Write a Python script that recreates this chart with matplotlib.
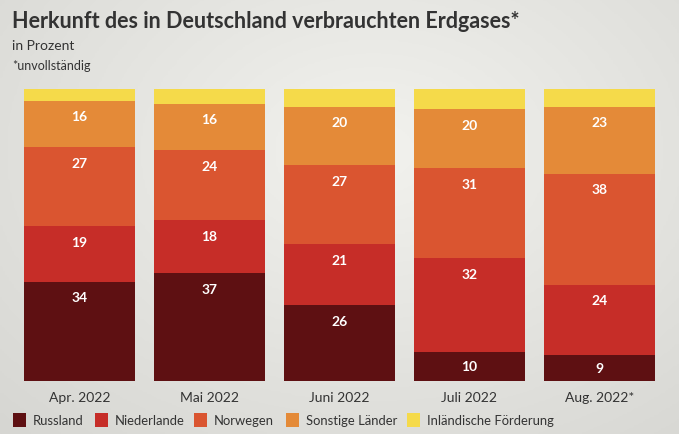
"""Herkunft des in Deutschland verbrauchten Erdgases - stacked bars."""
import matplotlib

matplotlib.use("Agg")
import matplotlib.pyplot as plt
import numpy as np
from matplotlib.patches import Rectangle

plt.rcParams["font.family"] = ["Lato", "DejaVu Sans"]

months = ["Apr. 2022", "Mai 2022", "Juni 2022", "Juli 2022", "Aug. 2022*"]
russland = [34, 37, 26, 10, 9]
niederlande = [19, 18, 21, 32, 24]
norwegen = [27, 24, 27, 31, 38]
sonstige = [16, 16, 20, 20, 23]
inland = [4, 5, 6, 7, 6]

series_names = ["Russland", "Niederlande", "Norwegen", "Sonstige Länder", "Inländische Förderung"]
colors = ["#5E1012", "#C62D28", "#DA5530", "#E48A38", "#F5DA4A"]
TEXT = "#333333"

fig = plt.figure(figsize=(6.79, 4.35), dpi=100)

# soft radial grey background
bg = fig.add_axes([0, 0, 1, 1], zorder=-10)
yy, xx = np.mgrid[0:1:200j, 0:1:300j]
dist = np.sqrt(((xx - 0.55) / 0.8) ** 2 + ((yy - 0.35) / 0.9) ** 2)
bg.imshow(np.clip(dist, 0, 1), cmap=matplotlib.colors.LinearSegmentedColormap.from_list(
    "bg", ["#F2F2EE", "#D6D6D2"]), extent=[0, 1, 0, 1], aspect="auto", origin="upper")
bg.set_axis_off()

ax = fig.add_axes([24 / 679, 1 - 382 / 435, 631 / 679, 292 / 435])
ax.set_xlim(-0.427, 4.427)
ax.set_ylim(0, 100)
ax.set_axis_off()

x = np.arange(len(months))
width = 111 / 130
bottom = np.zeros(len(months))
for name, values, color in zip(series_names, [russland, niederlande, norwegen, sonstige, inland], colors):
    values = np.array(values, dtype=float)
    ax.bar(x, values, width, bottom=bottom, color=color, linewidth=0)
    if name != "Inländische Förderung":
        for xi, b, v in zip(x, bottom, values):
            offset = min(5.4, v / 2)
            ax.text(xi, b + v - offset, f"{v:g}", ha="center", va="center",
                    color="white", fontsize=10, fontweight="bold")
    bottom += values

for xi, label in zip(x, months):
    ax.text(xi, -3.3, label, ha="center", va="top", fontsize=10, color=TEXT)

fig.text(12 / 679, 1 - 21 / 435, "Herkunft des in Deutschland verbrauchten Erdgases*",
         ha="left", va="center", fontsize=15.5, fontweight="bold", color=TEXT)
fig.text(12 / 679, 1 - 46 / 435, "in Prozent", ha="left", va="center", fontsize=10, color=TEXT)
fig.text(12 / 679, 1 - 66 / 435, "*unvollständig", ha="left", va="center", fontsize=9, color=TEXT)

# legend
legend_x = [13, 95, 194, 286, 407]
for lx, name, color in zip(legend_x, series_names, colors):
    fig.patches.append(Rectangle((lx / 679, 1 - 428 / 435), 13 / 679, 14 / 435,
                                 transform=fig.transFigure, color=color, linewidth=0))
    fig.text((lx + 20) / 679, 1 - 421 / 435, name, ha="left", va="center",
             fontsize=9.4, color=TEXT)

fig.savefig("out.png", dpi=100)
